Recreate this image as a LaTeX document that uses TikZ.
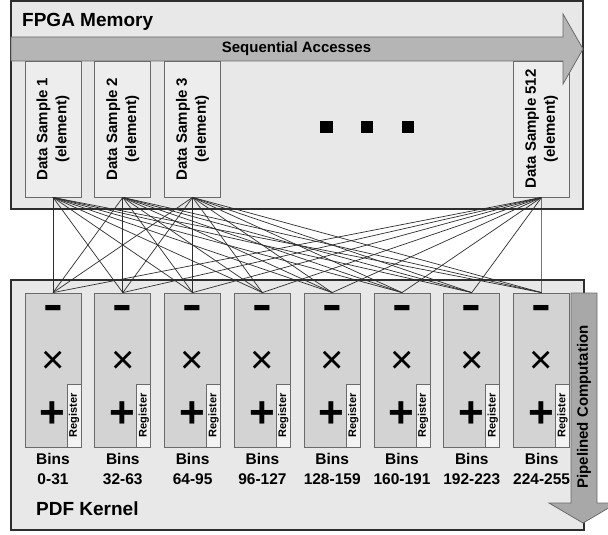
\documentclass[tikz,border=0pt]{standalone}
\usepackage{fontspec}
\setmainfont{Liberation Sans}
\usetikzlibrary{positioning,calc}
\definecolor{MemGray}{HTML}{E8E8E8}
\definecolor{SampGray}{HTML}{EDEDED}
\definecolor{UnitGray}{HTML}{D3D3D3}
\definecolor{RegWhite}{HTML}{F3F3F3}
\definecolor{BandGray}{HTML}{B5B5B5}
\definecolor{PipeGray}{HTML}{A8A8A8}
\definecolor{EdgeDark}{HTML}{2E2E2E}
\definecolor{EdgeMid}{HTML}{6A6A6A}
\tikzset{
  outerbox/.style={draw=EdgeDark,line width=1.6pt,fill=MemGray},
  samplebox/.style={draw=EdgeMid,line width=0.8pt,fill=SampGray,minimum width=56pt,minimum height=136pt,inner sep=0pt},
  unitbox/.style={draw=EdgeMid,line width=0.8pt,fill=UnitGray,minimum width=56pt,minimum height=154pt,inner sep=0pt},
  regbox/.style={draw=EdgeMid,line width=0.8pt,fill=RegWhite,minimum width=14pt,minimum height=63pt,inner sep=0pt,anchor=south east},
  bigarrow/.style={draw=EdgeMid,line width=0.8pt},
  samplelabel/.style={rotate=90,align=center,font=\fontsize{15}{19}\selectfont\bfseries,inner sep=0pt},
  reglabel/.style={rotate=90,font=\fontsize{11}{12}\selectfont\bfseries,inner sep=0pt},
  binlabel/.style={align=center,font=\fontsize{15.5}{20}\selectfont\bfseries,inner sep=0pt},
  titlelabel/.style={font=\fontsize{19}{21}\selectfont\bfseries,inner sep=0pt,anchor=base west},
  arrowlabel/.style={font=\fontsize{15}{17}\selectfont\bfseries,inner sep=0pt},
  opminus/.style={font=\fontsize{44}{44}\selectfont\bfseries,inner sep=0pt,anchor=base,xscale=1.35},
  optimes/.style={font=\fontsize{40}{40}\selectfont,inner sep=0pt,anchor=base},
  opplus/.style={font=\fontsize{44}{44}\selectfont\bfseries,inner sep=0pt,anchor=base},
  dotmark/.style={fill=black,minimum size=12.5pt,inner sep=0pt},
  wire/.style={draw=EdgeDark,line width=0.7pt}
}

\begin{document}
\begin{tikzpicture}[x=1pt,y=-1pt]
  \useasboundingbox (0,0) rectangle (608,535);
  \fill[white] (0,0) rectangle (608,535);

  % FPGA memory side
  \draw[outerbox] (11,1) rectangle (583,209);
  \node[titlelabel] (memtitle) at (22,27) {FPGA Memory};
  \foreach \s/\x in {1/53,2/122.8,3/192.6,512/541.6}{
    \node[samplebox] (ds\s) at (\x,129) {};
    \node[samplelabel] (dl\s) at (ds\s.center) {Data Sample \s\\(element)};
  }
  \draw[bigarrow,fill=BandGray] (11,37) -- (563,37) -- (563,14) -- (583,49)
    -- (563,84) -- (563,61) -- (11,61) -- cycle;
  \node[arrowlabel] (seq) at (296.5,48.5) {Sequential Accesses};
  \foreach \k/\x in {1/326.5,2/367,3/408}
    \node[dotmark] (dot\k) at (\x,127) {};

  % PDF kernel side
  \draw[outerbox] (11,280) rectangle (584,530);
  \node[titlelabel] (kertitle) at (36,515) {PDF Kernel};
  \foreach \i/\bins in {1/0-31,2/32-63,3/64-95,4/96-127,5/128-159,6/160-191,7/192-223,8/224-255}{
    \node[unitbox] (u\i) at ({53+69.8*(\i-1)},370) {};
    \node[regbox] (r\i) at (u\i.south east) {};
    \node[reglabel] at (r\i.center) {Register};
    \node[opminus] (m\i) at ($(u\i.north)+(0,27)$) {-};
    \node[optimes] (t\i) at ($(u\i.north)+(0,81)$) {×};
    \node[opplus] (p\i) at ($(u\i.north)+(-0.5,135)$) {+};
    \node[binlabel,below=6pt of u\i] (b\i) {Bins\\\bins};
  }
  \draw[bigarrow,fill=PipeGray] (571,293) -- (597,293) -- (597,503) -- (617,503)
    -- (583,523) -- (549,503) -- (571,503) -- cycle;
  \node[arrowlabel,rotate=90] (pipe) at (584,407) {Pipelined Computation};

  \foreach \s in {1,2,3,512}
    \foreach \i in {1,...,8}
      \draw[wire] (ds\s.south) -- (u\i.north);
\end{tikzpicture}
\end{document}
